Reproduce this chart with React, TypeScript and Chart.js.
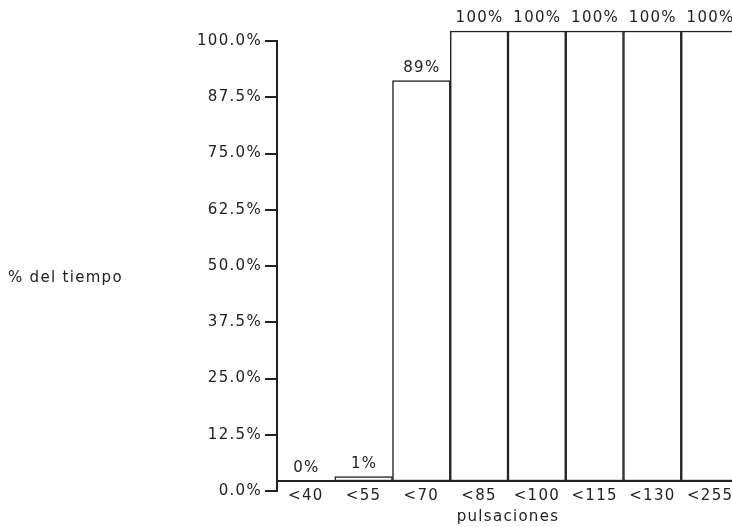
import { useEffect, useRef } from 'react';
import { Chart, registerables } from 'chart.js';

Chart.register(...registerables);

const categories = ['<40', '<55', '<70', '<85', '<100', '<115', '<130', '<255'];
const percentTime = [0, 1, 89, 100, 100, 100, 100, 100];
const yTickValues = [0, 12.5, 25, 37.5, 50, 62.5, 75, 87.5, 100];
const yAxisTitle = '% del tiempo';
const xAxisTitle = 'pulsaciones';

const FONT_FAMILY = 'DejaVu Sans';
const FONT_SIZE = 15;
const TEXT_COLOR = '#222222';
const LINE_COLOR = '#222222';
const LETTER_SPACING = '1.3px';

const spacingPlugin = {
  id: 'letterSpacing',
  beforeUpdate(chart: any) {
    chart.ctx.letterSpacing = LETTER_SPACING;
  },
  beforeLayout(chart: any) {
    chart.ctx.letterSpacing = LETTER_SPACING;
  },
  beforeDraw(chart: any) {
    chart.ctx.letterSpacing = LETTER_SPACING;
  },
};

const labelPlugin = {
  id: 'barLabels',
  afterDatasetsDraw(chart: any) {
    const ctx = chart.ctx;
    const meta = chart.getDatasetMeta(0);
    ctx.save();
    ctx.letterSpacing = LETTER_SPACING;
    ctx.font = `${FONT_SIZE}px "${FONT_FAMILY}"`;
    ctx.fillStyle = TEXT_COLOR;
    ctx.textAlign = 'center';
    ctx.textBaseline = 'alphabetic';
    meta.data.forEach((bar: any, i: number) => {
      ctx.fillText(`${percentTime[i]}%`, bar.x + 0.5, bar.y - 9);
    });
    const y2 = chart.scales.y2;
    ctx.textAlign = 'left';
    ctx.textBaseline = 'middle';
    ctx.fillText(yAxisTitle, 8, y2.getPixelForValue(50) + 12);
    ctx.restore();
  },
};

export default function App() {
  const canvasRef = useRef<HTMLCanvasElement | null>(null);

  useEffect(() => {
    if (!canvasRef.current) return;
    const font = { family: FONT_FAMILY, size: FONT_SIZE };
    const chart = new Chart(canvasRef.current, {
      type: 'bar',
      data: {
        labels: categories,
        datasets: [
          {
            data: percentTime,
            xAxisID: 'x',
            yAxisID: 'y',
            backgroundColor: '#ffffff',
            borderColor: LINE_COLOR,
            borderWidth: 1.5,
            borderSkipped: false,
            barPercentage: 1,
            categoryPercentage: 1,
            clip: false as any,
          },
        ],
      },
      options: {
        animation: false,
        responsive: true,
        maintainAspectRatio: false,
        layout: { padding: { left: 0, top: 41, right: 21, bottom: 36 } },
        plugins: {
          legend: { display: false },
          tooltip: { enabled: false },
          title: { display: false },
        },
        scales: {
          x: {
            type: 'category',
            position: { y: 0 } as any,
            offset: true,
            grid: { display: false, drawTicks: false },
            border: { display: true, color: LINE_COLOR, width: 2 },
            ticks: {
              color: TEXT_COLOR,
              font,
              padding: 6,
              maxRotation: 0,
              autoSkip: false,
            },
            title: {
              display: true,
              text: xAxisTitle,
              color: TEXT_COLOR,
              font,
              padding: { top: -3, bottom: 0 },
            },
          },
          y: {
            type: 'linear',
            display: false,
            min: -2.222,
            max: 97.778,
          },
          y2: {
            type: 'linear',
            position: 'left',
            min: 0,
            max: 100,
            afterBuildTicks: (scale: any) => {
              scale.ticks = yTickValues.map((v) => ({ value: v }));
            },
            afterFit: (scale: any) => {
              scale.width = 277;
            },
            ticks: {
              color: TEXT_COLOR,
              font,
              padding: 3,
              callback: (v: any) => `${Number(v).toFixed(1)}%`,
            },
            grid: {
              drawOnChartArea: false,
              drawTicks: true,
              tickLength: 12,
              color: LINE_COLOR,
              lineWidth: 2,
            },
            border: { display: true, color: LINE_COLOR, width: 2 },
          },
        },
      },
      plugins: [spacingPlugin, labelPlugin],
    });
    return () => chart.destroy();
  }, []);

  return (
    <div
      style={{
        position: 'fixed',
        left: 0,
        top: 0,
        width: 760,
        height: 527,
        background: '#ffffff',
      }}
    >
      <canvas ref={canvasRef} />
    </div>
  );
}
